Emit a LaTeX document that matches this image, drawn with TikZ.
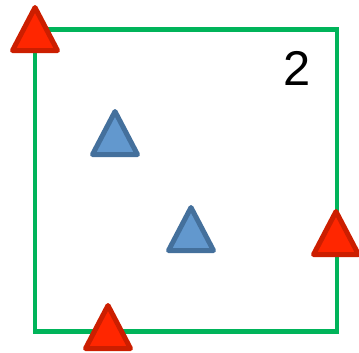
\documentclass[tikz,border=0pt]{standalone}
\usepackage{fontspec}
\setsansfont{Liberation Sans}
\usetikzlibrary{positioning}
\definecolor{SqGreen}{RGB}{0,180,90}
\definecolor{SqRed}{RGB}{255,38,0}
\definecolor{SqRedLine}{RGB}{204,30,0}
\definecolor{SqBlue}{RGB}{98,152,206}
\definecolor{SqBlueLine}{RGB}{68,112,156}
\tikzset{
  sq/frame/.style={
    draw=SqGreen,
    line width=4.5bp
  },
  sq/redtri/.style={
    draw=SqRedLine,
    fill=SqRed,
    line width=5bp,
    line join=round
  },
  sq/bluetri/.style={
    draw=SqBlueLine,
    fill=SqBlue,
    line width=5bp,
    line join=round
  },
  sq/label/.style={font=\sffamily\fontsize{49}{49}\selectfont, text=black, inner sep=0pt}
}
\begin{document}
\begin{tikzpicture}[x=1bp,y=-1bp]
  \useasboundingbox (0,0) rectangle (359,353);
  \draw[sq/frame] (35,29.5) rectangle (337,331.5);
  \foreach \x/\y in {115/109,191/205}{
    \draw[sq/bluetri] (\x,\y+2.5) -- ++(-22.5,43) -- ++(45,0) -- cycle;
  }
  \foreach \x/\y in {35/5,336/209,108/303}{
    \draw[sq/redtri] (\x,\y+2.5) -- ++(-22.5,43) -- ++(45,0) -- cycle;
  }
  \node[sq/label] (count) at (297.5,68) {2};
\end{tikzpicture}
\end{document}
